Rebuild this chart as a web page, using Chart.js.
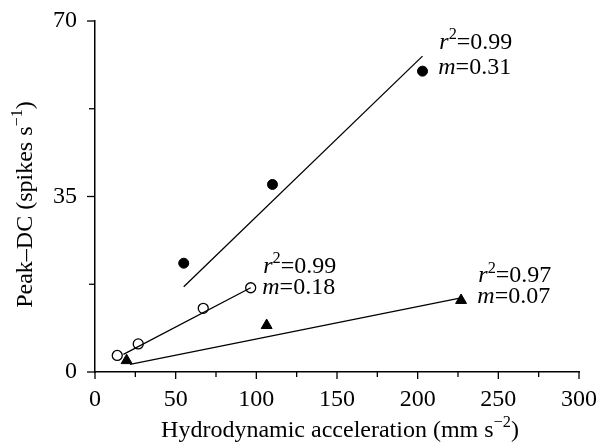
<!DOCTYPE html>
<html>
<head>
<meta charset="utf-8">
<script src="https://cdn.jsdelivr.net/npm/chart.js@4.4.1/dist/chart.umd.min.js"></script>
<style>
html,body{margin:0;padding:0;background:#fff;}
#c{display:block;}
</style>
</head>
<body>
<canvas id="c" width="605" height="443" style="width:605px;height:443px"></canvas>
<script>
// ---- data ----
const filledX = [55, 110, 203];
const filledY = [21.7, 37.4, 60.0];
const openX = [13.8, 26.8, 67.1, 96.5];
const openY = [3.3, 5.6, 12.7, 16.8];
const triX = [19.6, 106.4, 226.9];
const triY = [2.3, 9.3, 14.3];
// regression lines (end points)
const filledFitX = [55, 203];
const filledFitY = [17.0, 63.0];
const openFitX = [17.6, 96.5];
const openFitY = [3.5, 16.8];
const triFitX = [21.7, 226.9];
const triFitY = [1.5, 14.8];
// axis ticks
const xTickValues = [0, 50, 100, 150, 200, 250, 300];
const yTickValues = [0, 35, 70];
// annotation texts and anchors (data units)
const annR2 = ['0.99', '0.99', '0.97'];
const annM = ['0.31', '0.18', '0.07'];
const annX = [213.4, 104.3, 237.6];
const annR2Y = [64.5, 19.8, 17.9];
const annMY = [59.5, 15.6, 13.8];

const FONT = 'Liberation Serif';
const FS = 24;

function pts(xs, ys) { return xs.map((x, i) => ({x: x, y: ys[i]})); }

function drawRich(ctx, x, y, segs, align) {
  let total = 0;
  const parts = segs.map(s => {
    const size = s.sup ? FS * 0.68 : FS;
    const f = (s.italic ? 'italic ' : '') + size + 'px "' + FONT + '"';
    ctx.font = f;
    const w = ctx.measureText(s.t).width;
    total += w;
    return {s, f, w};
  });
  let cx = align === 'center' ? x - total / 2 : x;
  for (const p of parts) {
    ctx.font = p.f;
    ctx.fillText(p.s.t, cx, p.s.sup ? y - FS * 0.4 : y);
    cx += p.w;
  }
}

const decor = {
  id: 'decor',
  afterDraw(chart) {
    const ctx = chart.ctx;
    const xs = chart.scales.x, ys = chart.scales.y;
    const area = chart.chartArea;
    ctx.save();
    ctx.fillStyle = '#000';
    ctx.strokeStyle = '#000';
    ctx.lineWidth = 1.3;
    // tick marks
    xs.ticks.forEach((t, i) => {
      const px = xs.getPixelForTick(i);
      const major = xTickValues.includes(t.value);
      ctx.beginPath();
      ctx.moveTo(px, area.bottom);
      ctx.lineTo(px, area.bottom + (major ? 7 : 5));
      ctx.stroke();
    });
    ys.ticks.forEach((t, i) => {
      const py = ys.getPixelForTick(i);
      const major = yTickValues.includes(t.value);
      ctx.beginPath();
      ctx.moveTo(area.left, py);
      ctx.lineTo(area.left - (major ? 8 : 6), py);
      ctx.stroke();
    });
    // annotations
    ctx.textBaseline = 'alphabetic';
    ctx.textAlign = 'left';
    for (let i = 0; i < annR2.length; i++) {
      const px = xs.getPixelForValue(annX[i]);
      drawRich(ctx, px, ys.getPixelForValue(annR2Y[i]),
        [{t: 'r', italic: true}, {t: '2', sup: true}, {t: '=' + annR2[i]}]);
      drawRich(ctx, px - 1, ys.getPixelForValue(annMY[i]),
        [{t: 'm', italic: true}, {t: '=' + annM[i]}]);
    }
    // axis titles
    drawRich(ctx, (area.left + area.right) / 2 + 3, 437,
      [{t: 'Hydrodynamic acceleration (mm s'}, {t: '\u22122', sup: true}, {t: ')'}], 'center');
    ctx.translate(32, (area.top + area.bottom) / 2 + 8);
    ctx.rotate(-Math.PI / 2);
    drawRich(ctx, 0, 0,
      [{t: 'Peak\u2013DC (spikes s'}, {t: '\u22121', sup: true}, {t: ')'}], 'center');
    ctx.restore();
  }
};

const lineStyle = {borderColor: '#000', borderWidth: 1.3, pointRadius: 0, showLine: true, fill: false};

new Chart(document.getElementById('c'), {
  type: 'scatter',
  data: {
    datasets: [
      Object.assign({data: pts(filledFitX, filledFitY)}, lineStyle),
      Object.assign({data: pts(openFitX, openFitY)}, lineStyle),
      Object.assign({data: pts(triFitX, triFitY)}, lineStyle),
      {data: pts(filledX, filledY), pointStyle: 'circle', pointRadius: 5, backgroundColor: '#000', borderColor: '#000', borderWidth: 1},
      {data: pts(openX, openY), pointStyle: 'circle', pointRadius: 5, backgroundColor: '#fff', borderColor: '#000', borderWidth: 1.3},
      {data: pts(triX, triY), pointStyle: 'triangle', pointRadius: 6.3, backgroundColor: '#000', borderColor: '#000', borderWidth: 1}
    ]
  },
  options: {
    responsive: false,
    animation: false,
    devicePixelRatio: 1,
    layout: {padding: {left: 0, right: 26, top: 21, bottom: 0}},
    plugins: {legend: {display: false}, tooltip: {enabled: false}},
    scales: {
      x: {
        type: 'linear', min: 0, max: 300,
        afterFit: s => { s.height = 71; },
        grid: {display: false, drawTicks: true, tickLength: 7},
        border: {display: true, color: '#000', width: 1.5},
        ticks: {
          stepSize: 25, autoSkip: false, maxRotation: 0, padding: 6, color: '#000',
          font: {family: FONT, size: FS},
          callback: v => xTickValues.includes(v) ? String(v) : ''
        }
      },
      y: {
        type: 'linear', min: 0, max: 70,
        afterFit: s => { s.width = 95; },
        grid: {display: false, drawTicks: true, tickLength: 16},
        border: {display: true, color: '#000', width: 1.5},
        ticks: {
          stepSize: 17.5, autoSkip: false, padding: 2, color: '#000',
          font: {family: FONT, size: FS},
          callback: v => yTickValues.includes(v) ? String(v) : ''
        }
      }
    }
  },
  plugins: [decor]
});
</script>
</body>
</html>
